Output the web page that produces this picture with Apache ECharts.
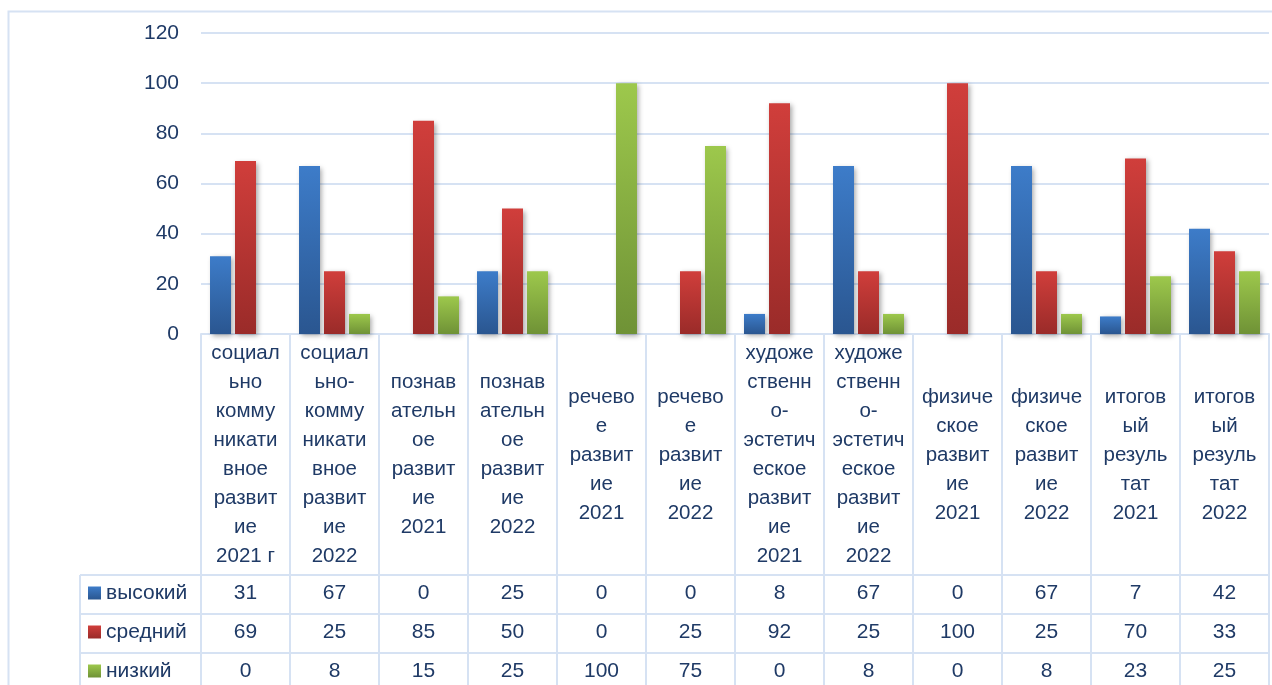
<!DOCTYPE html>
<html>
<head>
<meta charset="utf-8">
<script src="https://cdn.jsdelivr.net/npm/echarts@6/dist/echarts.min.js"></script>
<style>
  html, body { margin: 0; padding: 0; background: #fff; }
  #chart { width: 1272px; height: 685px; }
</style>
</head>
<body>
<div id="chart"></div>
<script>
// данные диаграммы
var categories = [
    'социал\nьно\nкомму\nникати\nвное\nразвит\nие\n2021 г',
    'социал\nьно-\nкомму\nникати\nвное\nразвит\nие\n2022',
    'познав\nательн\nое\nразвит\nие\n2021',
    'познав\nательн\nое\nразвит\nие\n2022',
    'речево\nе\nразвит\nие\n2021',
    'речево\nе\nразвит\nие\n2022',
    'художе\nственн\nо-\nэстетич\nеское\nразвит\nие\n2021',
    'художе\nственн\nо-\nэстетич\nеское\nразвит\nие\n2022',
    'физиче\nское\nразвит\nие\n2021',
    'физиче\nское\nразвит\nие\n2022',
    'итогов\nый\nрезуль\nтат\n2021',
    'итогов\nый\nрезуль\nтат\n2022'
];
var seriesNames = ['высокий', 'средний', 'низкий'];
var high = [31, 67, 0, 25, 0, 0, 8, 67, 0, 67, 7, 42];
var mid = [69, 25, 85, 50, 0, 25, 92, 25, 100, 25, 70, 33];
var low = [0, 8, 15, 25, 100, 75, 0, 8, 0, 8, 23, 25];
var yTicks = [0, 20, 40, 60, 80, 100, 120];

var textColor = '#1f3a66';
var lineColor = '#d6e2f3';
var font = 'Liberation Sans';

// градиенты в стиле Excel
var colors = [
    ['#3d7cc9', '#2a5690'],
    ['#d03e3b', '#9a2b29'],
    ['#9dc84c', '#6f9236']
];
function grad(c) {
    return new echarts.graphic.LinearGradient(0, 0, 0, 1, [
        {offset: 0, color: c[0]},
        {offset: 1, color: c[1]}
    ]);
}

// разметка таблицы
var plotLeft = 201, plotRight = 1269, plotTop = 33, plotBottom = 334;
var colW = (plotRight - plotLeft) / categories.length;
var rowTops = [575, 614, 653, 692];
var legendLeft = 80;

var myChart = echarts.init(document.getElementById('chart'));

var graphics = [];
// внешняя рамка
graphics.push({
    type: 'rect', shape: {x: 8.5, y: 11.5, width: 1300, height: 700},
    style: {fill: 'none', stroke: lineColor, lineWidth: 2}, silent: true
});
// вертикальные линии таблицы
for (var i = 0; i <= categories.length; i++) {
    var x = plotLeft + colW * i;
    graphics.push({
        type: 'line', shape: {x1: x, y1: plotBottom, x2: x, y2: 685},
        style: {stroke: lineColor, lineWidth: 2}, silent: true
    });
}
graphics.push({
    type: 'line', shape: {x1: legendLeft, y1: rowTops[0], x2: legendLeft, y2: 685},
    style: {stroke: lineColor, lineWidth: 2}, silent: true
});
// горизонтальные линии таблицы
for (var r = 0; r < 3; r++) {
    graphics.push({
        type: 'line', shape: {x1: legendLeft, y1: rowTops[r], x2: plotRight, y2: rowTops[r]},
        style: {stroke: lineColor, lineWidth: 2}, silent: true
    });
}
// строки таблицы данных
var rows = [high, mid, low];
rows.forEach(function (vals, r) {
    var cy = (rowTops[r] + rowTops[r + 1]) / 2 - 1;
    graphics.push({
        type: 'rect', shape: {x: 88, y: cy - 7, width: 13, height: 13},
        style: {fill: grad(colors[r])}, silent: true
    });
    graphics.push({
        type: 'text', x: 106, y: cy,
        style: {text: seriesNames[r], fill: textColor, font: '21px "' + font + '"', verticalAlign: 'middle'},
        silent: true
    });
    vals.forEach(function (v, c) {
        graphics.push({
            type: 'text', x: plotLeft + colW * (c + 0.5), y: cy,
            style: {text: String(v), fill: textColor, font: '21px "' + font + '"', align: 'center', verticalAlign: 'middle'},
            silent: true
        });
    });
});

function barSeries(name, data, c) {
    return {
        name: name,
        type: 'bar',
        data: data,
        barWidth: 21,
        barGap: '19%',
        itemStyle: {
            color: grad(c),
            shadowColor: 'rgba(0,0,0,0.35)',
            shadowBlur: 5,
            shadowOffsetX: 2,
            shadowOffsetY: 2
        }
    };
}

myChart.setOption({
    animation: false,
    backgroundColor: '#fff',
    grid: {left: plotLeft, right: 1272 - plotRight, top: plotTop, bottom: 685 - plotBottom},
    xAxis: {
        type: 'category',
        data: categories,
        axisLine: {show: true, lineStyle: {color: lineColor, width: 2}},
        axisTick: {show: false},
        axisLabel: {
            interval: 0,
            margin: 121,
            verticalAlign: 'middle',
            color: textColor,
            fontFamily: font,
            fontSize: 20.5,
            lineHeight: 29
        }
    },
    yAxis: {
        type: 'value',
        min: yTicks[0],
        max: yTicks[yTicks.length - 1],
        interval: yTicks[1] - yTicks[0],
        axisLine: {show: false},
        axisTick: {show: false},
        splitLine: {lineStyle: {color: lineColor, width: 2}},
        axisLabel: {color: textColor, fontFamily: font, fontSize: 21, margin: 22}
    },
    series: [
        barSeries(seriesNames[0], high, colors[0]),
        barSeries(seriesNames[1], mid, colors[1]),
        barSeries(seriesNames[2], low, colors[2])
    ],
    graphic: graphics
});
</script>
</body>
</html>
